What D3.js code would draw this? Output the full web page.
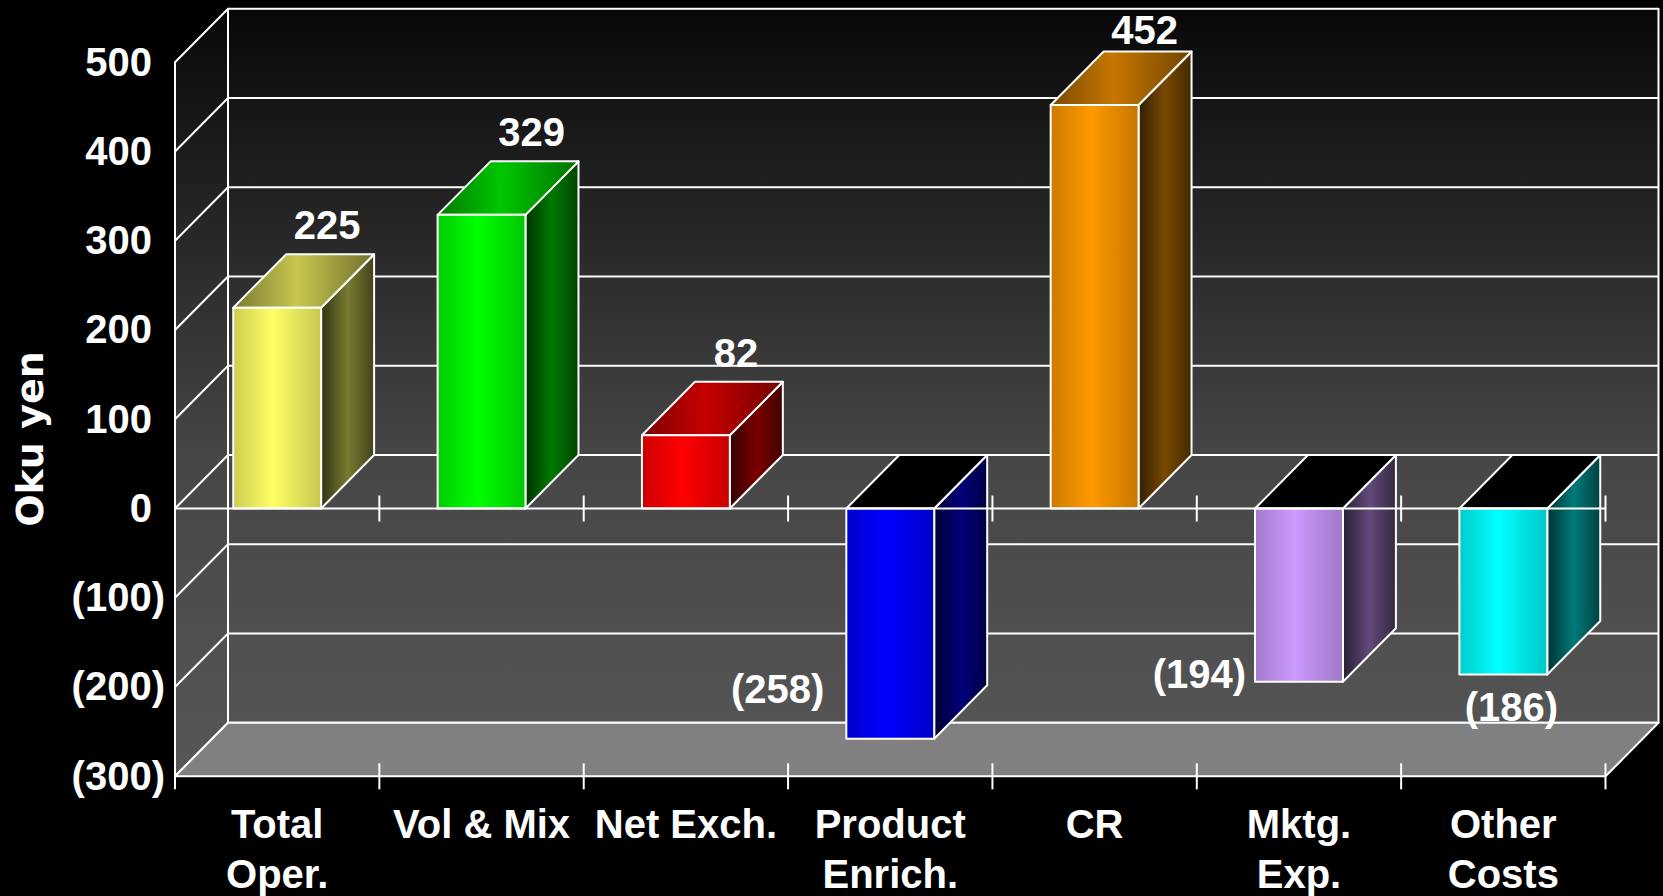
<!DOCTYPE html>
<html>
<head>
<meta charset="utf-8">
<script src="https://cdn.jsdelivr.net/npm/d3@7"></script>
<style>
  html, body { margin: 0; padding: 0; background: #000; overflow: hidden; }
</style>
</head>
<body>
<div id="chart"></div>
<script>
const width = 1663;
const height = 896;

// chart data
const categories = [["Total", "Oper."], ["Vol & Mix"], ["Net Exch."], ["Product", "Enrich."], ["CR"], ["Mktg.", "Exp."], ["Other", "Costs"]];
const values = [225, 329, 82, -258, 452, -194, -186];
const yTicks = [-300, -200, -100, 0, 100, 200, 300, 400, 500];
const yTitle = "Oku yen";
const barColors = ["#ffff66", "#00ff00", "#ff0000", "#0000ff", "#ff9900", "#cc99ff", "#00ffff"];

// layout of the 3d box (front plane + depth offset)
const plot = { left: 175, right: 1605.5, top: 62.2, bottom: 776.3 };
const depth = { dx: 53, dy: -53.5 };
const font = "Arial, 'Liberation Sans', sans-serif";
const fmt = d3.format("(d");

// where the negative labels sit next to their bar (excel put them by hand-ish)
const negLabel = {
    3: { anchor: "end", side: "left", dx: -22, dy: -36 },
    5: { anchor: "end", side: "left", dx: -9, dy: 6 },
    6: { anchor: "middle", side: "mid", dx: 8, dy: 46 }
};

const x = d3.scaleBand()
    .domain(d3.range(values.length))
    .range([plot.left, plot.right])
    .paddingInner(0.57)
    .paddingOuter(0.285);

const y = d3.scaleLinear()
    .domain([d3.min(yTicks), d3.max(yTicks)])
    .range([plot.bottom, plot.top]);

const back = (px, py) => [px + depth.dx, py + depth.dy];
const poly = pts => "M" + pts.map(p => p.join(",")).join("L") + "Z";
const shade = (c, k) => {
    const col = d3.rgb(c);
    return d3.rgb(col.r * k, col.g * k, col.b * k).formatHex();
};

const svg = d3.select("#chart").append("svg")
    .attr("width", width)
    .attr("height", height)
    .style("background", "#000");

const defs = svg.append("defs");

// wall gradient, dark on top, grey at the bottom
const yTop = y(d3.max(yTicks)) + depth.dy;
const wall = defs.append("linearGradient")
    .attr("id", "wall")
    .attr("gradientUnits", "userSpaceOnUse")
    .attr("x1", 0).attr("x2", 0)
    .attr("y1", yTop).attr("y2", plot.bottom);
wall.append("stop").attr("offset", 0).attr("stop-color", "#080808");
wall.append("stop").attr("offset", (y(0) + depth.dy - yTop) / (plot.bottom - yTop)).attr("stop-color", "#464646");
wall.append("stop").attr("offset", 1).attr("stop-color", "#575757");

// face gradients for every bar
const faceStops = {
    f: [[0, 0.8], [0.45, 1], [1, 0.78]],
    t: [[0, 0.48], [0.45, 0.78], [1, 0.44]],
    s: [[0, 0.2], [0.5, 0.48], [1, 0.26]]
};
barColors.forEach((c, i) => {
    Object.keys(faceStops).forEach(k => {
        const g = defs.append("linearGradient").attr("id", `${k}-${i}`)
            .attr("x1", 0).attr("x2", 1).attr("y1", 0).attr("y2", 0);
        faceStops[k].forEach(s => g.append("stop").attr("offset", s[0]).attr("stop-color", shade(c, s[1])));
    });
});

const vMin = d3.min(yTicks), vMax = d3.max(yTicks);
const lineStyle = sel => sel.attr("stroke", "#fff").attr("stroke-width", 2).attr("stroke-linejoin", "round");

//(1) walls
svg.append("path")
    .attr("d", poly([back(plot.left, y(vMax)), back(plot.right, y(vMax)), back(plot.right, y(vMin)), back(plot.left, y(vMin))]))
    .attr("fill", "url(#wall)")
    .call(lineStyle);

svg.append("path")
    .attr("d", poly([[plot.left, y(vMax)], back(plot.left, y(vMax)), back(plot.left, y(vMin)), [plot.left, y(vMin)]]))
    .attr("fill", "url(#wall)")
    .call(lineStyle);

//(2) gridlines: diagonal on the side wall + line on the back wall
svg.append("g").selectAll("path")
    .data(yTicks.filter(v => v > vMin && v < vMax))
    .join("path")
    .attr("d", v => "M" + [plot.left, y(v)] + "L" + back(plot.left, y(v)) + "L" + back(plot.right, y(v)))
    .attr("fill", "none")
    .call(lineStyle);

//(3) floor
svg.append("path")
    .attr("d", poly([[plot.left, y(vMin)], [plot.right, y(vMin)], back(plot.right, y(vMin)), back(plot.left, y(vMin))]))
    .attr("fill", "#808080")
    .call(lineStyle);

// front axis line reaches down past the floor
svg.append("line")
    .attr("x1", plot.left).attr("x2", plot.left)
    .attr("y1", y(vMax)).attr("y2", y(vMin) + 13)
    .call(lineStyle);

const step = x.step();
const tickXs = d3.range(1, values.length + 1).map(k => plot.left + k * step);

const drawTicks = yy => {
    svg.append("g").selectAll("line")
        .data(tickXs)
        .join("line")
        .attr("x1", d => d).attr("x2", d => d)
        .attr("y1", yy - 13).attr("y2", yy + 13)
        .call(lineStyle);
};
drawTicks(y(vMin));

//(4) bars
const bw = x.bandwidth();
const bars = svg.append("g").selectAll("g")
    .data(values)
    .join("g");

bars.each(function (v, i) {
    const g = d3.select(this);
    const xl = x(i), xr = x(i) + bw;
    const y0 = y(0), yv = y(v);
    const yTopFace = Math.min(y0, yv);
    // side face
    g.append("path")
        .attr("d", poly([[xr, y0], back(xr, y0), back(xr, yv), [xr, yv]]))
        .attr("fill", `url(#s-${i})`)
        .call(lineStyle);
    // top face (black for negative bars, you look inside)
    g.append("path")
        .attr("d", poly([[xl, yTopFace], back(xl, yTopFace), back(xr, yTopFace), [xr, yTopFace]]))
        .attr("fill", v < 0 ? "#000" : `url(#t-${i})`)
        .call(lineStyle);
    // front face
    g.append("rect")
        .attr("x", xl)
        .attr("y", Math.min(y0, yv))
        .attr("width", bw)
        .attr("height", Math.abs(yv - y0))
        .attr("fill", `url(#f-${i})`)
        .call(lineStyle);
});

//(5) zero line across the front
svg.append("line")
    .attr("x1", plot.left).attr("x2", plot.right)
    .attr("y1", y(0)).attr("y2", y(0))
    .call(lineStyle);
drawTicks(y(0));

//(6) y axis labels
const yAxis = svg.append("g")
    .attr("transform", "translate(165,0)")
    .call(d3.axisLeft(y).tickValues(yTicks).tickSize(0).tickPadding(0).tickFormat(fmt))
    .call(g => g.select(".domain").remove());

yAxis.selectAll(".tick text")
    .attr("fill", "#fff")
    .attr("font-family", font)
    .attr("font-weight", "bold")
    .attr("font-size", 40)
    .attr("dx", d => d >= 0 ? -13 : 0);

svg.append("text")
    .attr("transform", "translate(43,439) rotate(-90)")
    .attr("text-anchor", "middle")
    .attr("fill", "#fff")
    .attr("font-family", "'DejaVu Sans', Verdana, sans-serif")
    .attr("font-weight", "bold")
    .attr("font-size", 38)
    .text(yTitle);

//(7) category labels
const xAxis = svg.append("g")
    .attr("transform", `translate(0,${plot.bottom})`)
    .call(d3.axisBottom(x).tickSize(0).tickFormat(""))
    .call(g => g.select(".domain").remove());

xAxis.selectAll(".tick text")
    .attr("y", null)
    .attr("dy", null)
    .attr("fill", "#fff")
    .attr("font-family", font)
    .attr("font-weight", "bold")
    .attr("font-size", 40)
    .each(function (d) {
        const t = d3.select(this);
        categories[d].forEach((line, j) => {
            t.append("tspan")
                .attr("x", 0)
                .attr("y", 62 + j * 49.5)
                .text(line);
        });
    });

//(8) value labels
svg.append("g").selectAll("text")
    .data(values)
    .join("text")
    .attr("fill", "#fff")
    .attr("font-family", font)
    .attr("font-weight", "bold")
    .attr("font-size", 40)
    .each(function (v, i) {
        const t = d3.select(this);
        const cx = x(i) + bw / 2;
        if (v >= 0) {
            // above the back edge of the top face, kept inside the chart
            t.attr("text-anchor", "middle")
                .attr("x", cx + 50)
                .attr("y", Math.max(y(v) + depth.dy - 15, 44));
        } else {
            const p = negLabel[i] || { anchor: "middle", side: "mid", dx: 0, dy: 40 };
            const bx = p.side === "left" ? x(i) : cx;
            t.attr("text-anchor", p.anchor)
                .attr("x", bx + p.dx)
                .attr("y", y(v) + p.dy);
        }
        t.text(fmt(v));
    });
</script>
</body>
</html>
